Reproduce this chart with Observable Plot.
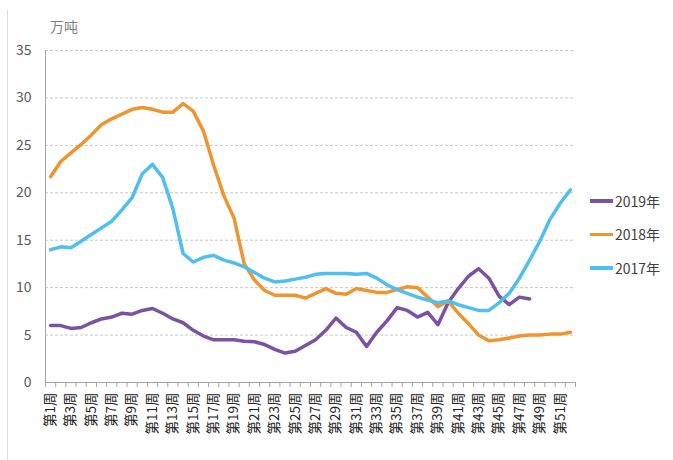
<!DOCTYPE html>
<html>
<head>
<meta charset="utf-8">
<script src="https://cdn.jsdelivr.net/npm/d3@7"></script>
<script src="https://cdn.jsdelivr.net/npm/@observablehq/plot@0.6"></script>
<style>
  body { margin: 0; background: #fff; }
  #wrap { position: relative; width: 673px; height: 460px; font-family: "Noto Sans CJK SC", "Liberation Sans", sans-serif; }
  #wrap .border { position: absolute; left: 7px; top: 10px; width: 1px; height: 450px; background: #d9d9d9; }
  #unit { position: absolute; left: 50px; top: 16px; font-size: 14px; color: #7f7f7f; }
  #legend { position: absolute; left: 590px; top: 184px; font-size: 14px; color: #404040; }
  #legend div { height: 33.5px; display: flex; align-items: center; }
  #legend span.sw { display: inline-block; width: 23px; height: 3.5px; margin-right: 2px; }
</style>
</head>
<body>
<div id="wrap">
  <div class="border"></div>
  <div id="chart"></div>
  <div id="unit">万吨</div>
  <div id="legend"></div>
</div>
<script>
// 周次
const weeks = d3.range(1, 53)
const weekLabel = w => `第${w}周`

const series = ["2019年", "2018年", "2017年"]
const colors = ["#7b52a3", "#f0942f", "#4ebff0"]

// 万吨
const y2019 = [6.0, 6.0, 5.7, 5.8, 6.3, 6.7, 6.9, 7.3, 7.2, 7.6, 7.8, 7.3, 6.7, 6.3, 5.5, 4.9,
  4.5, 4.5, 4.5, 4.35, 4.3, 4.0, 3.5, 3.1, 3.3, 3.9, 4.5, 5.5, 6.8, 5.8, 5.3, 3.8,
  5.3, 6.5, 7.9, 7.6, 6.9, 7.4, 6.1, 8.4, 9.9, 11.2, 12.0, 11.0, 9.1, 8.2, 9.0, 8.8]
const y2018 = [21.7, 23.3, 24.2, 25.1, 26.1, 27.2, 27.8, 28.3, 28.8, 29.0, 28.8, 28.5, 28.5, 29.4, 28.6, 26.5,
  22.9, 19.7, 17.3, 12.5, 10.8, 9.7, 9.2, 9.2, 9.2, 8.9, 9.4, 9.9, 9.4, 9.3, 9.9, 9.7,
  9.5, 9.5, 9.8, 10.1, 10.0, 9.0, 8.0, 8.6, 7.3, 6.2, 5.0, 4.4, 4.5, 4.7, 4.9, 5.0,
  5.0, 5.1, 5.1, 5.3]
const y2017 = [14.0, 14.3, 14.2, 14.9, 15.6, 16.3, 17.0, 18.2, 19.5, 22.0, 23.0, 21.6, 18.3, 13.6, 12.7, 13.2,
  13.4, 12.9, 12.6, 12.2, 11.6, 11.0, 10.6, 10.7, 10.9, 11.1, 11.4, 11.5, 11.5, 11.5, 11.4, 11.5,
  11.0, 10.3, 9.8, 9.4, 9.0, 8.7, 8.4, 8.6, 8.2, 7.9, 7.6, 7.6, 8.4, 9.4, 11.0, 12.9,
  14.9, 17.2, 18.9, 20.3]

const yTicks = [0, 5, 10, 15, 20, 25, 30, 35]

const rows = [y2019, y2018, y2017].flatMap((vals, i) =>
  vals.map((v, j) => ({week: weeks[j], value: v, series: series[i]}))
)

const chart = Plot.plot({
  width: 673,
  height: 460,
  marginLeft: 45,
  marginRight: 98,
  marginTop: 50,
  marginBottom: 78,
  style: {fontFamily: '"Noto Sans CJK SC", "Liberation Sans", sans-serif', background: "#fff"},
  x: {type: "linear", domain: [0.5, 52.5]},
  y: {domain: [0, 35]},
  color: {domain: series, range: colors},
  marks: [
    Plot.gridY(yTicks.filter(d => d > 0), {stroke: "#c8c8c8", strokeOpacity: 1, strokeDasharray: "3,2"}),
    Plot.axisY(yTicks, {tickSize: 0, tickPadding: 14, fontSize: 14, color: "#595959", label: null}),
    // 类别分隔刻度
    Plot.axisX(d3.range(0.5, 53, 1), {tickSize: 5, stroke: "#a6a6a6", tickFormat: () => "", label: null}),
    Plot.axisX(weeks.filter(w => w % 2 === 1), {
      tickSize: 0, tickPadding: 10, tickRotate: -90, fontSize: 13.5, fill: "#222",
      tickFormat: weekLabel, label: null
    }),
    Plot.ruleY([0], {stroke: "#a6a6a6"}),
    Plot.ruleX([0.5], {stroke: "#a6a6a6"}),
    Plot.line(rows, {
      x: "week", y: "value", z: "series", stroke: "series",
      strokeWidth: 3.5, strokeLinejoin: "round", strokeLinecap: "round"
    })
  ]
})

d3.select("#chart").append(() => chart)

const legend = d3.select("#legend")
series.forEach((s, i) => {
  const row = legend.append("div")
  row.append("span").attr("class", "sw").style("background", colors[i])
  row.append("span").text(s)
})
</script>
</body>
</html>
